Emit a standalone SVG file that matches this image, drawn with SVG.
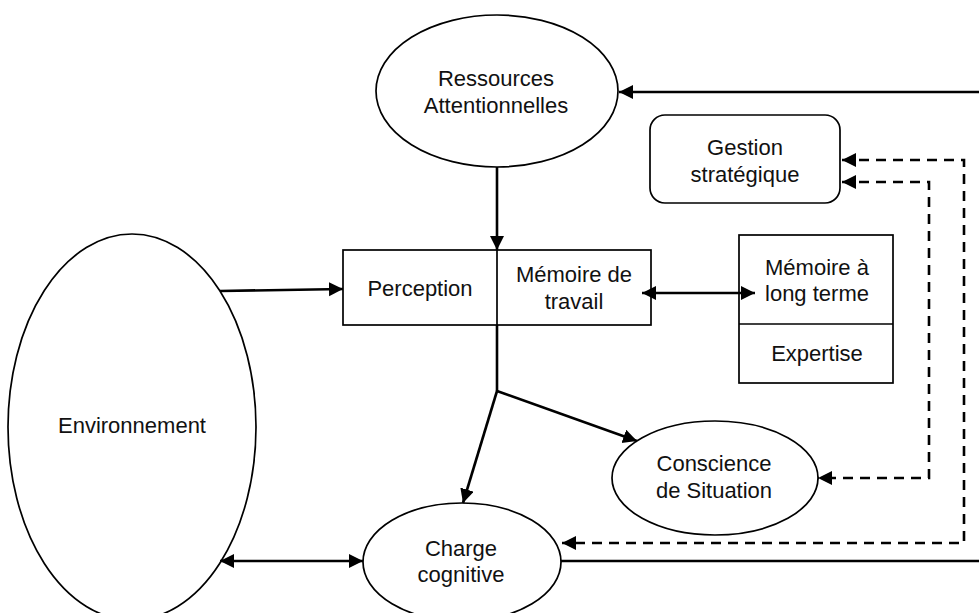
<svg xmlns="http://www.w3.org/2000/svg" width="979" height="613" viewBox="0 0 979 613">
<style>
.shape{fill:#fff;stroke:#000;stroke-width:1.7}
.lbl{font-family:"Liberation Sans",Arial,sans-serif;font-size:22px;fill:#111;text-anchor:middle}
.con{fill:none;stroke:#000;stroke-width:2.6}
.dash{stroke-dasharray:10 7}
</style>
<defs>
<marker id="ah" markerUnits="userSpaceOnUse" markerWidth="15" markerHeight="15" refX="14" refY="7" orient="auto-start-reverse">
<path d="M0,0 L14,7 L0,14 z" fill="#000"/>
</marker>
</defs>
<rect width="979" height="613" fill="#fff"/>
<g id="environnement">
<ellipse class="shape" cx="132" cy="427" rx="124" ry="193"/>
<text class="lbl" x="132" y="433">Environnement</text>
</g>
<g id="ressources">
<ellipse class="shape" cx="497" cy="91" rx="121" ry="76"/>
<text class="lbl" x="496" y="86">Ressources</text>
<text class="lbl" x="496" y="113">Attentionnelles</text>
</g>
<g id="gestion">
<rect class="shape" x="650" y="115" width="190" height="88" rx="15"/>
<text class="lbl" x="745" y="155">Gestion</text>
<text class="lbl" x="745" y="182">stratégique</text>
</g>
<g id="perception-memoire">
<rect class="shape" x="343" y="250" width="308" height="75"/>
<line class="shape" x1="497" y1="250" x2="497" y2="325"/>
<text class="lbl" x="420" y="296">Perception</text>
<text class="lbl" x="574" y="282">Mémoire de</text>
<text class="lbl" x="574" y="309">travail</text>
</g>
<g id="memoire-long-terme">
<rect class="shape" x="739" y="235" width="154" height="148"/>
<line class="shape" x1="739" y1="324" x2="893" y2="324"/>
<text class="lbl" x="817" y="275">Mémoire à</text>
<text class="lbl" x="817" y="301">long terme</text>
<text class="lbl" x="817" y="361">Expertise</text>
</g>
<g id="conscience">
<ellipse class="shape" cx="715" cy="478" rx="103" ry="57"/>
<text class="lbl" x="714" y="471">Conscience</text>
<text class="lbl" x="714" y="498">de Situation</text>
</g>
<g id="charge">
<ellipse class="shape" cx="462" cy="562" rx="99" ry="59"/>
<text class="lbl" x="461" y="556">Charge</text>
<text class="lbl" x="461" y="582">cognitive</text>
</g>
<g id="connectors">
<path class="con" d="M979,92 L619,92" marker-end="url(#ah)"/>
<path class="con" d="M497,167 L497,250" marker-end="url(#ah)"/>
<path class="con" d="M220,291 L343,289" marker-end="url(#ah)"/>
<path class="con" d="M642,293 L755,293" marker-start="url(#ah)" marker-end="url(#ah)"/>
<path class="con" d="M497,325 L497,391"/>
<path class="con" d="M497,391 L463,503" marker-end="url(#ah)"/>
<path class="con" d="M497,391 L637,441" marker-end="url(#ah)"/>
<path class="con" d="M220,561 L363,561" marker-start="url(#ah)" marker-end="url(#ah)"/>
<path class="con" d="M561,561 L979,561"/>
<path class="con dash" d="M842,160 L964,160 L964,543 L562,543" marker-start="url(#ah)" marker-end="url(#ah)"/>
<path class="con dash" d="M842,182 L929,182 L929,478 L818,478" marker-start="url(#ah)" marker-end="url(#ah)"/>
</g>
</svg>
